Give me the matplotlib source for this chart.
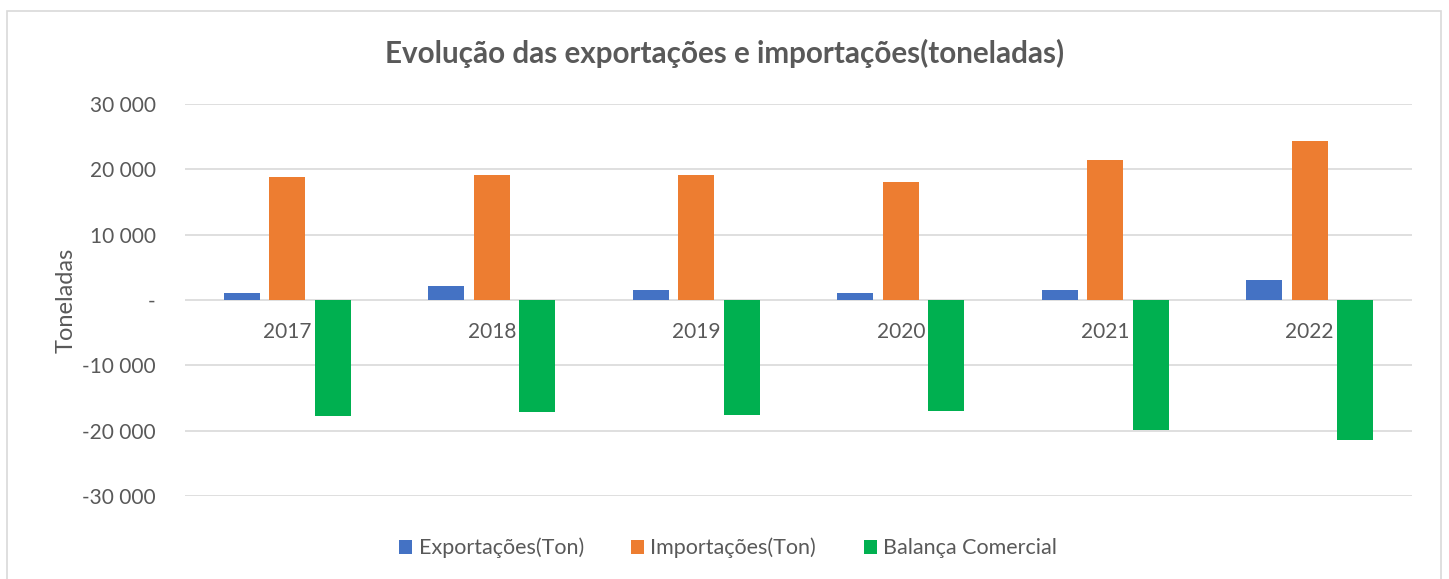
import numpy as np
import matplotlib.pyplot as plt
from matplotlib.ticker import FuncFormatter
from matplotlib.patches import Rectangle

plt.rcParams['font.family'] = ['Lato', 'DejaVu Sans']

anos = ['2017', '2018', '2019', '2020', '2021', '2022']
exportacoes = [1120, 2140, 1500, 1100, 1530, 3010]
importacoes = [18830, 19130, 19100, 18000, 21430, 24330]
balanca = [-17760, -17100, -17600, -17000, -19900, -21430]

cor_exp = '#4472c4'
cor_imp = '#ed7d31'
cor_bal = '#00b050'
cor_txt = '#595959'

fig = plt.figure(figsize=(14.49, 5.79), dpi=100)
fig.patches.append(Rectangle((7/1449, -0.01), 1434/1449, 1 - 11/579 + 0.01,
                             transform=fig.transFigure, fill=False,
                             edgecolor='#d9d9d9', linewidth=1.2))
ax = fig.add_axes([185/1449, 1 - 496/579, 1227/1449, 392/579])

x = np.arange(len(anos))
w = 0.176
off = 0.222
ax.bar(x - off, exportacoes, w, color=cor_exp, label='Exportações(Ton)', zorder=3)
ax.bar(x, importacoes, w, color=cor_imp, label='Importações(Ton)', zorder=3)
ax.bar(x + off, balanca, w, color=cor_bal, label='Balança Comercial', zorder=3)

ax.set_xlim(-0.5, len(anos) - 0.5)
ax.set_ylim(-30000, 30000)
ax.set_yticks(np.arange(-30000, 30001, 10000))


def fmt(v, pos):
    if v == 0:
        return '-'
    return '{:,.0f}'.format(v).replace(',', ' ')


ax.yaxis.set_major_formatter(FuncFormatter(fmt))
ax.grid(axis='y', color='#d9d9d9', linewidth=1.2, zorder=0)
for s in ax.spines.values():
    s.set_visible(False)
ax.tick_params(axis='y', length=0, pad=21, labelsize=15, labelcolor=cor_txt)
ax.set_xticks([])

for i, a in enumerate(anos):
    ax.annotate(a, (x[i], 0), xytext=(0, -23), textcoords='offset points',
                ha='center', va='center', fontsize=15, color=cor_txt)

ax.set_ylabel('Toneladas', fontsize=17, color=cor_txt)
ax.yaxis.set_label_coords(-108/1227, 0.5)

fig.text(0.5, 1 - 53/579, 'Evolução das exportações e importações(toneladas)',
         ha='center', va='center', fontsize=21.3, fontweight='bold', color=cor_txt)

leg = fig.legend(loc='center', bbox_to_anchor=(728/1449, 1 - 548/579), ncol=3,
                 frameon=False, fontsize=15.5, handlelength=0.6, handleheight=0.6,
                 handletextpad=0.3, columnspacing=2.2)
for t in leg.get_texts():
    t.set_color(cor_txt)

fig.savefig('out.png', dpi=100)
